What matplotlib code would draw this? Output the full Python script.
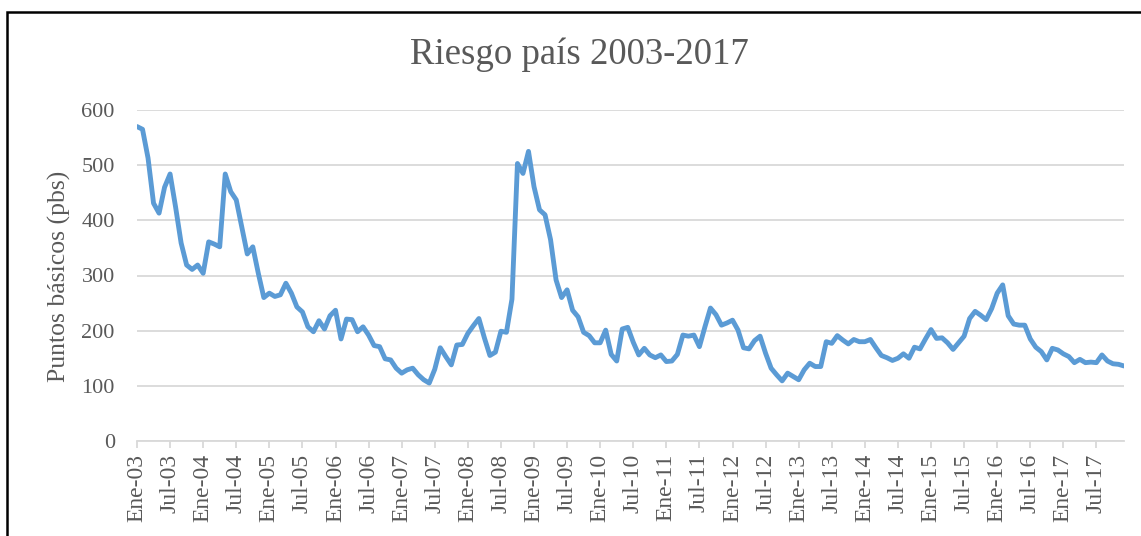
import matplotlib
matplotlib.use("Agg")
import matplotlib.pyplot as plt
from matplotlib.patches import Rectangle

title = "Riesgo país 2003-2017"
ylabel = "Puntos básicos (pbs)"
years = list(range(2003, 2018))
months_es = ["Ene", "Jul"]
tick_labels = [f"{m}-{str(y)[2:]}" for y in years for m in months_es]

riesgo = [
    570, 565, 513, 431, 413, 460, 484, 424, 359, 319, 311, 319,
    304, 361, 357, 352, 484, 452, 437, 388, 339, 352, 304, 260,
    268, 262, 265, 286, 268, 243, 234, 207, 198, 218, 203, 227,
    237, 185, 221, 220, 198, 207, 192, 173, 171, 149, 147, 132,
    123, 129, 132, 120, 111, 105, 130, 169, 153, 138, 174, 175,
    195, 209, 222, 187, 155, 161, 199, 197, 257, 503, 485, 525,
    461, 419, 410, 365, 292, 260, 274, 237, 225, 197, 191, 178,
    178, 201, 157, 145, 203, 206, 179, 156, 168, 156, 151, 156,
    144, 145, 157, 192, 190, 192, 171, 207, 241, 229, 210, 214,
    219, 201, 169, 167, 182, 190, 159, 132, 120, 109, 123, 117,
    111, 129, 141, 135, 135, 180, 177, 191, 183, 176, 184, 180,
    180, 184, 169, 155, 151, 146, 150, 158, 150, 170, 167, 185,
    202, 186, 187, 178, 166, 178, 190, 222, 235, 228, 220, 240,
    268, 283, 227, 212, 210, 210, 185, 170, 162, 147, 168, 165,
    158, 153, 142, 148, 142, 143, 142, 156, 145, 140, 139, 136,
]

W, H = 1141, 536
fig = plt.figure(figsize=(W / 100, H / 100), dpi=100)
fig.patch.set_facecolor("white")

serif = ["Liberation Serif", "DejaVu Serif"]
gray = "#595959"

ax = fig.add_axes([137 / W, 1 - 441 / H, (1124 - 137) / W, (441 - 110) / H])
x = list(range(len(riesgo)))
ax.plot(x, riesgo, color="#5B9BD5", lw=3.5, solid_joinstyle="round", solid_capstyle="round", zorder=3)

ax.set_xlim(0, len(riesgo) - 1)
ax.set_ylim(0, 600)
ax.set_yticks(range(0, 601, 100))
ax.set_yticklabels([str(v) for v in range(0, 601, 100)], family=serif, fontsize=16, color=gray)
ax.tick_params(axis="y", length=0, pad=16)
ax.grid(axis="y", color="#D9D9D9", lw=1.3, zorder=0)
ax.set_axisbelow(True)

pos = list(range(0, len(riesgo), 6))
ax.set_xticks(pos)
ax.set_xticklabels(tick_labels[:len(pos)], rotation=90, family=serif, fontsize=17, color=gray)
ax.tick_params(axis="x", length=5, color="#D9D9D9", width=1.3, pad=4)

for s in ["top", "right", "left"]:
    ax.spines[s].set_visible(False)
ax.spines["bottom"].set_color("#D9D9D9")
ax.spines["bottom"].set_linewidth(1.3)

fig.text(59 / W, 1 - 276 / H, ylabel, family=serif, fontsize=18.5, color=gray,
         rotation=90, ha="center", va="center")
fig.text(579 / W, 1 - 55 / H, title, family=serif, fontsize=26.5, color=gray, ha="center", va="center")

fig.patches.append(Rectangle((7 / W, -0.05), 1.2, 1 - 12.5 / H + 0.05, transform=fig.transFigure,
                             fill=False, edgecolor="black", lw=1.8))

fig.savefig("out.png", dpi=100, facecolor="white")
